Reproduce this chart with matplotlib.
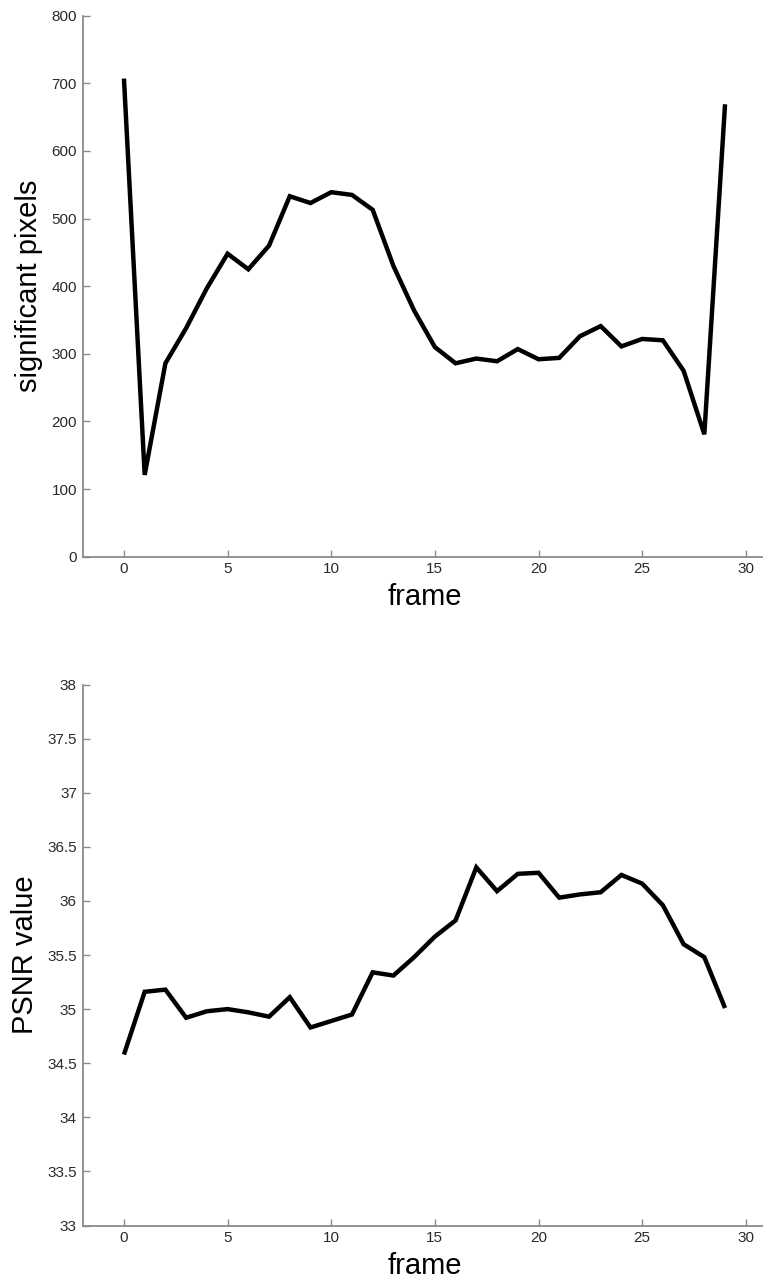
import matplotlib
matplotlib.use("Agg")
import matplotlib.pyplot as plt

plt.rcParams['font.family'] = ['Liberation Sans', 'DejaVu Sans']

frames = list(range(30))
significant_pixels = [707, 121, 286, 338, 397, 448, 425, 460, 533, 523,
                      539, 535, 513, 430, 364, 310, 286, 293, 289, 307,
                      292, 294, 326, 341, 311, 322, 320, 275, 181, 669]
psnr_values = [34.58, 35.16, 35.18, 34.92, 34.98, 35.00, 34.97, 34.93, 35.11, 34.83,
               34.89, 34.95, 35.34, 35.31, 35.48, 35.67, 35.82, 36.31, 36.09, 36.25,
               36.26, 36.03, 36.06, 36.08, 36.24, 36.16, 35.96, 35.60, 35.48, 35.01]

x_ticks = [0, 5, 10, 15, 20, 25, 30]
y_ticks_top = [0, 100, 200, 300, 400, 500, 600, 700, 800]
y_ticks_bottom = [33, 33.5, 34, 34.5, 35, 35.5, 36, 36.5, 37, 37.5, 38]
y_ticklabels_bottom = ['33', '33.5', '34', '34.5', '35', '35.5', '36', '36.5', '37', '37.5', '38']

W, H = 763, 1281
fig = plt.figure(figsize=(W / 100, H / 100), dpi=100)

ax_left = 82.5 / W
ax_w = 684 / W
ax_h = 541 / H
ax1 = fig.add_axes([ax_left, (H - 556.7) / H, ax_w, ax_h])
ax2 = fig.add_axes([ax_left, (H - 1225.5) / H, ax_w, ax_h])

spine_col = '#8a8a8a'
tick_col = '#2a2a2a'


def style(ax):
    for s in ['top', 'right']:
        ax.spines[s].set_visible(False)
    for s in ['left', 'bottom']:
        ax.spines[s].set_color(spine_col)
        ax.spines[s].set_linewidth(1.3)
    ax.tick_params(direction='in', length=5, width=1, color=spine_col,
                   labelsize=11, labelcolor=tick_col, pad=4)
    ax.set_xlim(-2, 31)
    ax.set_xticks(x_ticks)
    ax.set_xlabel('frame', fontsize=21, labelpad=5)


ax1.plot(frames, significant_pixels, color='black', linewidth=3.2,
         solid_joinstyle='miter', solid_capstyle='butt')
style(ax1)
ax1.set_ylim(0, 800)
ax1.set_yticks(y_ticks_top)
ax1.set_ylabel('significant pixels', fontsize=21, labelpad=6)

ax2.plot(frames, psnr_values, color='black', linewidth=3.2,
         solid_joinstyle='miter', solid_capstyle='butt')
style(ax2)
ax2.set_ylim(33, 38)
ax2.set_yticks(y_ticks_bottom)
ax2.set_yticklabels(y_ticklabels_bottom)
ax2.set_ylabel('PSNR value', fontsize=21, labelpad=6)

fig.savefig('out.png', dpi=100)
